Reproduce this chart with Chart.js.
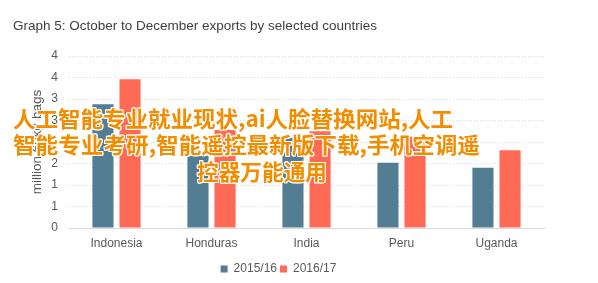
<!DOCTYPE html>
<html>
<head>
<meta charset="utf-8">
<script src="https://cdn.jsdelivr.net/npm/chart.js@4/dist/chart.umd.min.js"></script>
<style>
  html, body { margin: 0; padding: 0; background: #fff; }
  #wrap { position: relative; width: 598px; height: 283px; overflow: hidden; }
  canvas { display: block; }
  .ov {
    position: absolute;
    font-family: "Noto Sans CJK SC", sans-serif;
    font-weight: bold;
    font-size: 22px;
    line-height: 27px;
    color: #F28D00;
    white-space: nowrap;
    transform-origin: left top;
    text-shadow: 1px 0 0 #fff, -1px 0 0 #fff, 0 1px 0 #fff, 0 -1px 0 #fff,
                 1px 1px 0 #fff, -1px -1px 0 #fff, 1px -1px 0 #fff, -1px 1px 0 #fff;
  }
</style>
</head>
<body>
<div id="wrap">
  <canvas id="c" width="598" height="283"></canvas>
  <div class="ov" data-w="440" style="left:13px; top:104px;">人工智能专业就业现状,ai人脸替换网站,人工</div>
  <div class="ov" data-w="467" style="left:13px; top:130px;">智能专业考研,智能遥控最新版下载,手机空调遥</div>
  <div class="ov" data-w="130" style="left:197px; top:157px;">控器万能通用</div>
</div>
<script>
const categories = ['Indonesia', 'Honduras', 'India', 'Peru', 'Uganda'];
const seriesNames = ['2015/16', '2016/17'];
const values2015 = [2.88, 1.68, 2.10, 1.52, 1.40];
const values2016 = [3.46, 2.28, 2.25, 2.12, 1.81];
const yTickLabels = ['0', '1', '1', '2', '2', '3', '3', '4', '4'];
const titleText = 'Graph 5: October to December exports by selected countries';
const yAxisTitle = 'million 60kg bags';

const FONT = '"Liberation Sans", Arial, sans-serif';

function fitOverlay() {
  document.querySelectorAll('.ov').forEach(el => {
    el.style.transform = 'none';
    const w = el.getBoundingClientRect().width;
    const target = parseFloat(el.dataset.w);
    if (w > 0) el.style.transform = 'scaleX(' + (target / w) + ')';
  });
}
if (document.fonts && document.fonts.load) {
  document.fonts.load('bold 22px "Noto Sans CJK SC"', '人工智能').then(fitOverlay, () => {});
}

new Chart(document.getElementById('c'), {
  type: 'bar',
  data: {
    labels: categories,
    datasets: [
      { label: seriesNames[0], data: values2015, backgroundColor: '#527D93',
        categoryPercentage: 0.57, barPercentage: 0.78 },
      { label: seriesNames[1], data: values2016, backgroundColor: '#FF6A55',
        categoryPercentage: 0.57, barPercentage: 0.78 }
    ]
  },
  options: {
    responsive: false,
    animation: false,
    layout: { padding: { left: 13, right: 54, top: 0, bottom: -2 } },
    plugins: {
      title: {
        display: true, text: titleText, align: 'start',
        color: '#404040', font: { family: FONT, size: 13.5, weight: 'normal' },
        padding: { top: 18, bottom: 21.8 }
      },
      legend: {
        position: 'bottom',
        labels: {
          boxWidth: 7, boxHeight: 7, padding: 3,
          color: '#595959', font: { family: FONT, size: 12 }
        }
      },
      tooltip: { enabled: false }
    },
    scales: {
      x: {
        grid: { display: false, drawTicks: false },
        border: { display: true, color: '#D9D9D9', width: 1 },
        ticks: { color: '#595959', font: { family: FONT, size: 12 }, padding: 8 },
        afterFit: s => { s.height = 32; }
      },
      y: {
        min: 0, max: 4,
        border: { display: false, dash: [1, 2] },
        grid: { color: '#D9D9D9', drawTicks: false, lineWidth: 1 },
        ticks: {
          stepSize: 0.5, color: '#595959', font: { family: FONT, size: 12 }, padding: 11,
          callback: (v, i) => yTickLabels[i]
        },
        title: {
          display: true, text: yAxisTitle, color: '#595959',
          font: { family: FONT, size: 13.5 }, padding: { top: 16, bottom: 0 }
        },
        afterFit: s => { s.width = 56; }
      }
    }
  }
});
</script>
</body>
</html>
